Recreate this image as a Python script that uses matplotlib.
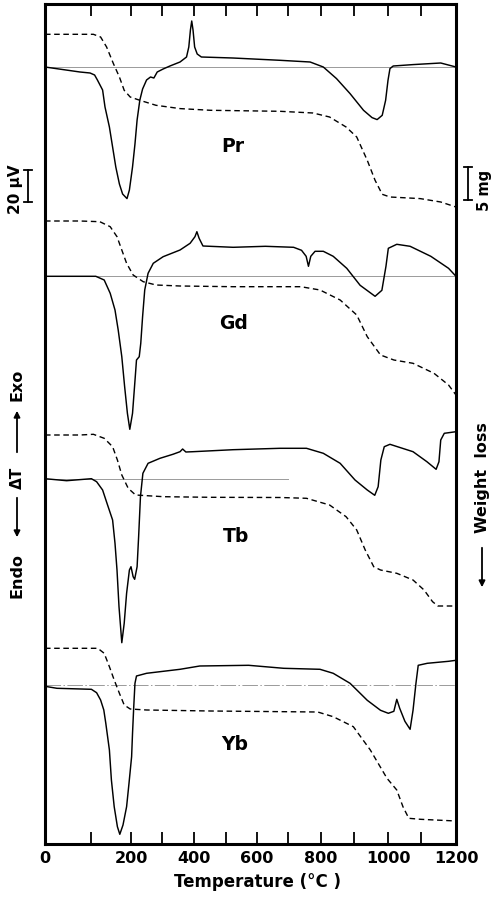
import numpy as np
import matplotlib
matplotlib.use('Agg')
import matplotlib.pyplot as plt
from matplotlib.patches import FancyArrowPatch
from matplotlib.lines import Line2D

plt.rcParams['font.family'] = ['DejaVu Sans']
plt.rcParams['font.weight'] = 'bold'

# ---------------- data (temperature in °C, signal in arbitrary chart units) ----------------
pr_dta_T = [0, 76, 98, 109, 116, 129, 135, 146, 154, 162, 171, 179, 190, 196, 205, 213, 220, 229, 238, 251,
            264, 275, 286, 305, 326, 357, 377, 384, 389, 393, 397, 402, 410, 423, 522, 674, 767, 807, 847,
            888, 928, 953, 968, 983, 993, 1000, 1006, 1016, 1077, 1157, 1200]
pr_dta = [0, -5, -6, -8, -13, -23, -40, -60, -80, -100, -117, -127, -131.6, -123, -100, -77, -53, -33, -22,
          -13, -10, -11, -5, -2, 1, 5, 10, 20, 37, 46, 37, 20, 13, 10, 9, 6.7, 5, 0, -11.6, -26.6, -43.3,
          -50.6, -52.6, -48.3, -33.3, -13.3, -1.6, 1, 2.4, 4, 0]
pr_tg_T = [0, 76, 106, 124, 139, 156, 171, 183, 198, 229, 282, 357, 452, 674, 776, 826, 876, 908, 939,
           962, 983, 1006, 1099, 1157, 1200]
pr_tg = [32.7, 32.7, 32.7, 30, 20, 3.4, -10, -23.3, -30, -33.3, -38.3, -41.6, -43.3, -44.3, -46, -50,
         -60, -70, -93.3, -113.3, -127.3, -130, -131.6, -135, -140]

gd_dta_T = [0, 112, 133, 148, 160, 168, 177, 184, 191, 197, 205, 214, 218, 227, 232, 238, 245, 256, 273,
            305, 357, 388, 403, 409, 416, 428, 523, 627, 717, 741, 755, 762, 769, 782, 807, 837, 878, 918,
            962, 982, 994, 1001, 1027, 1068, 1129, 1179, 1200]
gd_dta = [0, 0, -3.7, -17, -33.7, -53.7, -80.4, -110, -137, -153, -137, -100.4, -83.7, -80.4, -67, -40.4,
          -13.7, 3, 13, 19.6, 26.3, 33, 39.6, 44.6, 38, 30.3, 29, 30, 29, 26, 20, 10, 20, 25, 25, 20, 8,
          -9, -20, -14, 10, 28, 32, 30, 20, 8, 0]
gd_tg_T = [0, 76, 122, 148, 165, 177, 189, 207, 240, 282, 357, 523, 739, 797, 858, 908, 939, 978, 1018,
           1077, 1138, 1179, 1200]
gd_tg = [55.3, 55.3, 54.6, 49.6, 39.6, 26.3, 13, 1.3, -5.4, -8.7, -9.7, -10.4, -10.4, -13.7, -23.7,
         -38.7, -60.4, -78.7, -83.7, -87, -97, -108.7, -118.7]

tb_dta_T = [0, 47, 101, 114, 129, 140, 154, 160, 165, 170, 177, 183, 189, 196, 200, 207, 212, 220, 225,
            231, 239, 256, 295, 335, 357, 365, 375, 397, 523, 674, 756, 807, 858, 903, 939, 961, 971, 979,
            989, 1006, 1077, 1118, 1144, 1152, 1157, 1167, 1200]
tb_dta = [0, -2, 0, -3, -11.3, -24.6, -41.3, -64.6, -91.3, -128, -164, -144.6, -114.6, -91.3, -88, -98,
          -100.6, -88, -58, -18, 5.4, 15.4, 20.4, 24.4, 27, 29.7, 26.7, 27, 29, 30.4, 30.4, 25.4, 15.4,
          -1.3, -11.3, -16.6, -8, 18.7, 32, 34.4, 27, 17, 9.4, 17, 38.7, 45.4, 47]
tb_tg_T = [0, 76, 106, 133, 154, 166, 177, 193, 215, 306, 452, 674, 756, 826, 876, 908, 933, 958, 978,
           1027, 1077, 1110, 1134, 1149, 1200]
tb_tg = [43.7, 43.7, 44.4, 40.4, 32, 18.7, 3.7, -9.6, -16.3, -18, -18.6, -18.8, -19.6, -26.3, -38, -51.3,
         -71.3, -88, -91.3, -94.6, -101.3, -111.3, -123, -127.3, -127.3]

yb_dta_T = [0, 26, 101, 114, 124, 132, 137, 146, 151, 158, 166, 172, 180, 189, 195, 202, 205, 209, 213,
            218, 251, 357, 418, 573, 686, 797, 837, 888, 939, 978, 1001, 1018, 1027, 1036, 1052, 1068,
            1077, 1086, 1093, 1119, 1179, 1200]
yb_dta = [-1, -3, -4, -7.4, -14.7, -24.7, -38, -64.7, -94.7, -121.4, -141.4, -149, -139.7, -121.4, -98,
          -71.4, -48, -21.4, 2, 9.3, 12, 16, 19.3, 20, 17, 16, 12, 2, -15, -25, -28, -26, -14, -23, -36,
          -44, -25, 2, 20, 22, 24, 25]
yb_tg_T = [0, 76, 117, 133, 146, 158, 171, 183, 198, 251, 452, 790, 837, 898, 948, 997, 1027, 1046,
           1064, 1100, 1200]
yb_tg = [37, 37, 37, 32, 18.6, 5.3, -8, -19.7, -23.7, -24.7, -25.7, -26.7, -31.4, -41.4, -64.7, -93,
         -104.7, -121.4, -133, -134, -135.7]

samples = ['Pr', 'Gd', 'Tb', 'Yb']
x_ticks = [0, 200, 400, 600, 800, 1000, 1200]
x_minor = [100, 300, 500, 700, 900, 1100]

# ---------------- layout / styles ----------------
W, H = 491, 897
baselines = [777, 567.7, 365.3, 158.7]          # vertical offset of each panel
baseline_end = [1200, 1200, 700, 1200]
baseline_style = ['-', '-', '-', (0, (16, 2.5, 1.5, 2.5))]
label_pos = [(523, -80), (523, -47), (531, -58), (529, -59)]

# the recorder's temperature axis is not linear (0-200 °C stretched)
T_KN = [-100, 0, 100, 200, 300, 400, 500, 600, 700, 800, 900, 1000, 1100, 1200, 1300]
P_KN = [-1, 45, 91, 131, 161.5, 194, 226, 257, 288, 321, 354, 388, 420.5, 456, 491]


def fwd(t):
    return np.interp(np.asarray(t, float), T_KN, P_KN)


def inv(p):
    return np.interp(np.asarray(p, float), P_KN, T_KN)


fig = plt.figure(figsize=(W / 100, H / 100), dpi=100)
ax = fig.add_axes([45 / W, 1 - 844 / H, 411 / W, 840 / H])
ax.set_xscale('function', functions=(fwd, inv))
ax.set_xlim(0, 1200)
ax.set_ylim(0, 840)

dta = [(pr_dta_T, pr_dta), (gd_dta_T, gd_dta), (tb_dta_T, tb_dta), (yb_dta_T, yb_dta)]
tg = [(pr_tg_T, pr_tg), (gd_tg_T, gd_tg), (tb_tg_T, tb_tg), (yb_tg_T, yb_tg)]

for i, name in enumerate(samples):
    b = baselines[i]
    ax.plot([0, baseline_end[i]], [b, b], color='#9a9a9a', lw=0.7, ls=baseline_style[i], zorder=1)
    t, v = dta[i]
    ax.plot(t, np.asarray(v) + b, color='black', lw=1.05, zorder=3,
            solid_joinstyle='round', solid_capstyle='round')
    t, v = tg[i]
    ax.plot(t, np.asarray(v) + b, color='black', lw=1.0, ls=(0, (4.0, 2.6)), zorder=2)
    lx, ly = label_pos[i]
    ax.text(lx, b + ly, name, ha='center', va='center', fontsize=13.5, fontweight='bold')

ax.set_xticks(x_ticks)
ax.set_xticks(x_minor, minor=True)
ax.set_xticklabels([str(v) for v in x_ticks])
ax.set_yticks([])
ax.tick_params(axis='x', which='both', direction='in', length=8.5, width=1.3, top=True,
               labelsize=11.5, pad=5)
for lab in ax.get_xticklabels():
    lab.set_fontweight('bold')
for s in ax.spines.values():
    s.set_linewidth(2.2)

ax.set_xlabel('Temperature (°C )', fontsize=12, fontweight='bold')
ax.xaxis.label.set_va('center')
ax.xaxis.set_label_coords((257 - 45) / 411, -(882 - 844) / 840)


def fx(px):
    return px / W


def fy(py):
    return 1 - py / H


# scale bars
for (x, y0, y1) in [(28.3, 170, 202), (468, 167, 200)]:
    fig.add_artist(Line2D([fx(x), fx(x)], [fy(y0), fy(y1)], color='black', lw=1.3,
                          transform=fig.transFigure))
    for yy in (y0, y1):
        fig.add_artist(Line2D([fx(x - 4), fx(x + 4)], [fy(yy), fy(yy)], color='black', lw=1.3,
                              transform=fig.transFigure))

fig.text(fx(16), fy(189), '20 µV', rotation=90, ha='center', va='center', fontsize=11,
         fontweight='bold')
fig.text(fx(485), fy(190), '5 mg', rotation=90, ha='center', va='center', fontsize=10.5,
         fontweight='bold')

# left axis annotation: Endo <- ΔT -> Exo
fig.text(fx(17), fy(385), 'Exo', rotation=90, ha='center', va='center', fontsize=11.5, fontweight='bold')
fig.text(fx(17), fy(478), 'ΔT', rotation=90, ha='center', va='center', fontsize=11, fontweight='bold')
fig.text(fx(17), fy(575), 'Endo', rotation=90, ha='center', va='center', fontsize=11.5, fontweight='bold')
fig.text(fx(482), fy(478), 'Weight  loss', rotation=90, ha='center', va='center', fontsize=11.5,
         fontweight='bold')

for (x, y0, y1) in [(17, 455, 408), (17, 495, 540), (482, 545, 590)]:
    fig.add_artist(FancyArrowPatch((fx(x), fy(y0)), (fx(x), fy(y1)), transform=fig.transFigure,
                                   arrowstyle='-|>', mutation_scale=9, lw=1.3, color='black'))

fig.savefig('out.png', dpi=100)
